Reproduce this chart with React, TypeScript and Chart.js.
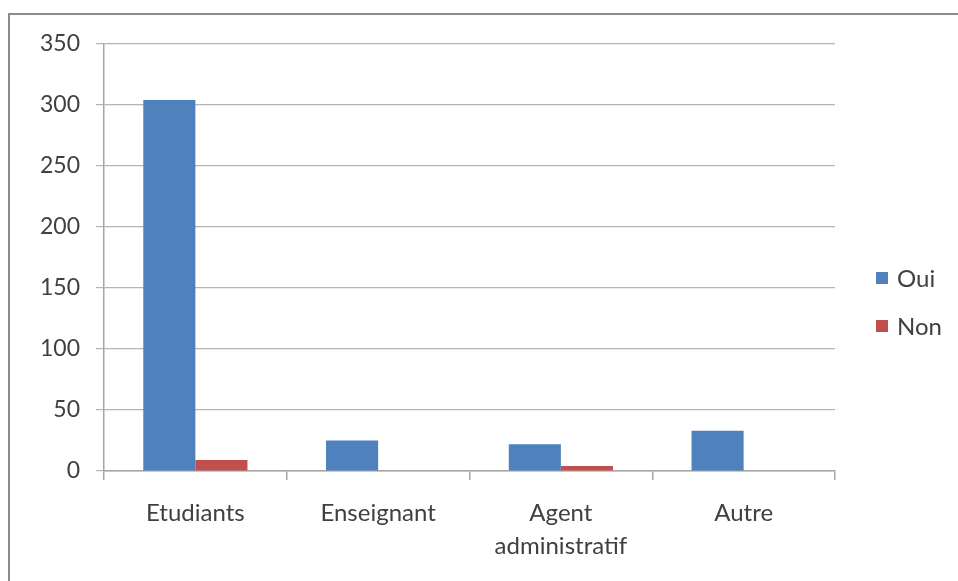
import React, { useEffect, useRef } from "react";
import { Chart, registerables } from "chart.js";

Chart.register(...registerables);

const categories: string[][] = [["Etudiants"], ["Enseignant"], ["Agent", "administratif"], ["Autre"]];
const seriesNames = ["Oui", "Non"];
const ouiValues = [304, 25, 22, 33];
const nonValues = [9, 0, 4, 0];
const seriesColors = ["#4F81BD", "#C0504D"];
const yMin = 0;
const yMax = 350;
const yStep = 50;

const FONT = "Lato, 'Open Sans', sans-serif";

export default function App() {
  const ref = useRef<HTMLCanvasElement | null>(null);

  useEffect(() => {
    if (!ref.current) return;
    const chart = new Chart(ref.current, {
      type: "bar",
      data: {
        labels: categories,
        datasets: [
          {
            label: seriesNames[0],
            data: ouiValues,
            backgroundColor: seriesColors[0],
            borderWidth: 0,
          },
          {
            label: seriesNames[1],
            data: nonValues,
            backgroundColor: seriesColors[1],
            borderWidth: 0,
          },
        ],
      },
      options: {
        animation: false,
        responsive: false,
        maintainAspectRatio: false,
        devicePixelRatio: 1,
        layout: { padding: { left: 0, right: 123, top: 44, bottom: 0 } },
        plugins: {
          legend: { display: false },
          tooltip: { enabled: false },
        },
        datasets: {
          bar: { categoryPercentage: 0.57, barPercentage: 1.0 },
        },
        scales: {
          x: {
            offset: true,
            grid: {
              offset: true,
              drawOnChartArea: false,
              drawTicks: true,
              tickLength: 9,
              color: "#a6a6a6",
              lineWidth: 1.5,
            },
            border: { display: true, color: "#a6a6a6", width: 1.5 },
            ticks: {
              color: "#404040",
              font: { family: FONT, size: 24, lineHeight: 1.4 },
              padding: 16,
              maxRotation: 0,
              autoSkip: false,
            },
            afterFit: (scale: any) => {
              scale.height = 581 - 471;
            },
          },
          y: {
            min: yMin,
            max: yMax,
            ticks: {
              stepSize: yStep,
              color: "#404040",
              font: { family: FONT, size: 23 },
              padding: 16,
            },
            grid: {
              color: "#b4b4b4",
              lineWidth: 1.2,
              drawTicks: true,
              tickLength: 8,
            },
            border: { display: true, color: "#a6a6a6", width: 1.5 },
            afterFit: (scale: any) => {
              scale.width = 104;
            },
          },
        },
      },
    });
    return () => chart.destroy();
  }, []);

  const legendItem = (i: number, top: number) => (
    <div
      key={i}
      style={{
        position: "absolute",
        left: 876,
        top: top,
        display: "flex",
        alignItems: "center",
        fontFamily: FONT,
        fontSize: 24,
        color: "#404040",
        lineHeight: "26px",
      }}
    >
      <span
        style={{
          display: "inline-block",
          width: 12,
          height: 12,
          background: seriesColors[i],
          marginRight: 9,
        }}
      />
      <span>{seriesNames[i]}</span>
    </div>
  );

  return (
    <div
      style={{
        position: "fixed",
        left: 0,
        top: 0,
        width: 958,
        height: 581,
        overflow: "hidden",
        background: "#ffffff",
      }}
    >
      <div
        style={{
          position: "absolute",
          left: 8,
          top: 13,
          width: 1100,
          height: 800,
          border: "2px solid #8c8c8c",
          boxSizing: "border-box",
        }}
      />
      <canvas
        ref={ref}
        width={958}
        height={581}
        style={{ position: "absolute", left: 0, top: 0, width: 958, height: 581 }}
      />
      {legendItem(0, 265)}
      {legendItem(1, 313)}
    </div>
  );
}
